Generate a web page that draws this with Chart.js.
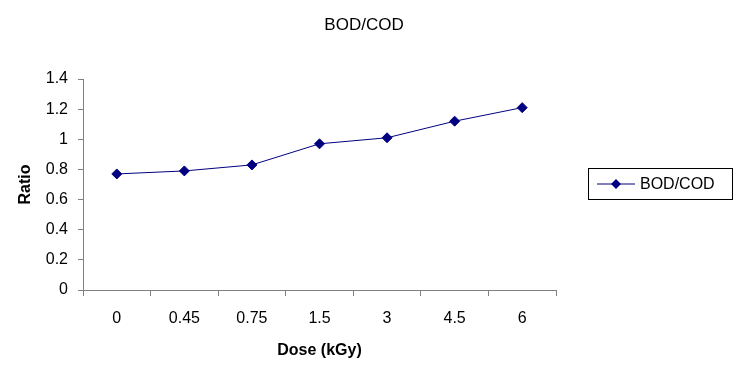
<!DOCTYPE html>
<html>
<head>
<meta charset="utf-8">
<script src="https://cdn.jsdelivr.net/npm/chart.js@4"></script>
<style>
  html, body { margin: 0; padding: 0; background: #fff; }
  #wrap { width: 748px; height: 378px; }
</style>
</head>
<body>
<div id="wrap"><canvas id="chart" width="748" height="378"></canvas></div>
<script>
// Chart data
const doses = ['0', '0.45', '0.75', '1.5', '3', '4.5', '6'];
const bodCodRatio = [0.77, 0.79, 0.83, 0.97, 1.01, 1.12, 1.21];
const seriesName = 'BOD/COD';
const chartTitle = 'BOD/COD';

const fontFamily = '"Liberation Sans", Arial, sans-serif';
const axisGray = '#808080';
const navy = '#000080';

// Title centred over the whole picture (not just the plot)
const pageTitle = {
    id: 'pageTitle',
    afterDraw(chart) {
        const ctx = chart.ctx;
        ctx.save();
        ctx.fillStyle = '#000';
        ctx.font = '17px ' + fontFamily;
        ctx.textAlign = 'center';
        ctx.textBaseline = 'middle';
        ctx.fillText(chartTitle, 364, 25);
        ctx.restore();
    }
};

// Legend drawn as an Excel-style box with line + marker
const boxLegend = {
    id: 'boxLegend',
    afterDraw(chart) {
        const ctx = chart.ctx;
        const ds = chart.data.datasets[0];
        const x = 588, y = 168, w = 144, h = 31;
        ctx.save();
        ctx.strokeStyle = '#000';
        ctx.lineWidth = 1;
        ctx.strokeRect(x + 0.5, y + 0.5, w, h);
        const cy = y + h / 2 + 0.5;
        ctx.strokeStyle = ds.borderColor;
        ctx.beginPath();
        ctx.moveTo(x + 9, cy);
        ctx.lineTo(x + 47, cy);
        ctx.stroke();
        // diamond marker
        ctx.fillStyle = ds.pointBackgroundColor;
        const r = 5, mx = x + 28;
        ctx.beginPath();
        ctx.moveTo(mx, cy - r);
        ctx.lineTo(mx + r, cy);
        ctx.lineTo(mx, cy + r);
        ctx.lineTo(mx - r, cy);
        ctx.closePath();
        ctx.fill();
        ctx.fillStyle = '#000';
        ctx.font = '16px ' + fontFamily;
        ctx.textBaseline = 'middle';
        ctx.fillText(ds.label, x + 52, cy + 1);
        ctx.restore();
    }
};

new Chart(document.getElementById('chart'), {
    type: 'line',
    data: {
        labels: doses,
        datasets: [{
            label: seriesName,
            data: bodCodRatio,
            borderColor: navy,
            backgroundColor: navy,
            pointBackgroundColor: navy,
            pointBorderColor: navy,
            borderWidth: 1,
            pointStyle: 'rectRot',
            pointRadius: 5,
            pointHoverRadius: 5,
            tension: 0,
            fill: false
        }]
    },
    options: {
        responsive: false,
        animation: false,
        events: [],
        layout: { padding: { top: 79, right: 192, left: 0, bottom: 0 } },
        plugins: {
            legend: { display: false },
            tooltip: { enabled: false },
            title: { display: false }
        },
        scales: {
            x: {
                offset: true,
                grid: { display: true, drawOnChartArea: false, drawTicks: true, tickLength: 6, color: axisGray, offset: true },
                border: { display: true, color: axisGray, width: 1 },
                ticks: { color: '#000', font: { family: fontFamily, size: 16 }, padding: 13, maxRotation: 0 },
                title: {
                    display: true,
                    text: 'Dose (kGy)',
                    color: '#000',
                    font: { family: fontFamily, size: 16, weight: 'bold' },
                    padding: { top: 0, bottom: 18 }
                },
                afterFit(scale) { scale.height = 88; }
            },
            y: {
                min: 0,
                max: 1.4,
                grid: { display: true, drawOnChartArea: false, drawTicks: true, tickLength: 5, color: axisGray },
                border: { display: true, color: axisGray, width: 1 },
                ticks: { stepSize: 0.2, color: '#000', font: { family: fontFamily, size: 16 }, padding: 10,
                    callback: v => Math.round(v * 10) / 10 },
                title: {
                    display: true,
                    text: 'Ratio',
                    color: '#000',
                    font: { family: fontFamily, size: 16, weight: 'bold' },
                    padding: { top: 16, bottom: 0 }
                },
                afterFit(scale) { scale.width = 83; }
            }
        }
    },
    plugins: [pageTitle, boxLegend]
});
</script>
</body>
</html>
